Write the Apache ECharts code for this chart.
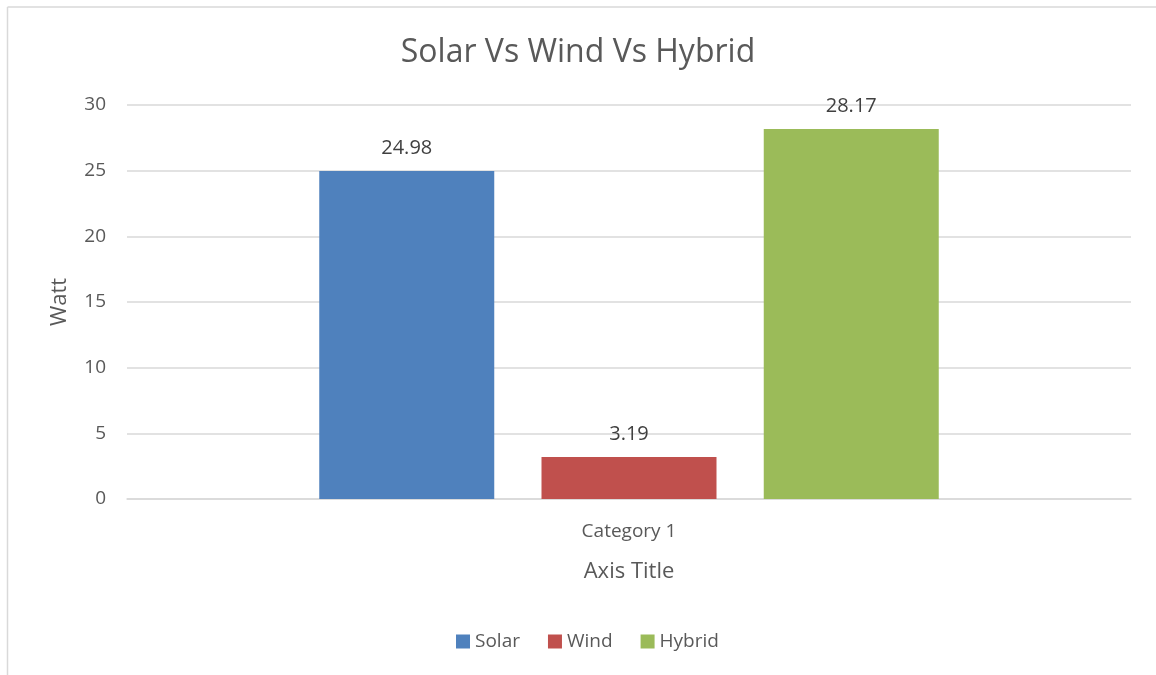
<!DOCTYPE html>
<html>
<head>
<meta charset="utf-8">
<script src="https://cdn.jsdelivr.net/npm/echarts@6/dist/echarts.min.js"></script>
<style>
  html, body { margin: 0; padding: 0; background: #fff; }
  #chart { width: 1156px; height: 675px; }
</style>
</head>
<body>
<div id="chart"></div>
<script>
// data
const categories = ['Category 1'];
const seriesNames = ['Solar', 'Wind', 'Hybrid'];
const solar = [24.98];
const wind = [3.19];
const hybrid = [28.17];
const colors = ['#4f81bd', '#c0504d', '#9bbb59'];

const font = '"Open Sans", sans-serif';
const grey = '#595959';

let chart = echarts.init(document.getElementById('chart'));

function bar(name, data, color) {
  return {
    name: name,
    type: 'bar',
    data: data,
    barWidth: 175,
    barGap: '27%',
    itemStyle: { color: color },
    label: {
      show: true,
      position: 'top',
      distance: 13,
      color: '#404040',
      fontSize: 20,
      fontFamily: font
    }
  };
}

chart.setOption({
  textStyle: { fontFamily: font },
  title: {
    text: 'Solar Vs Wind Vs Hybrid',
    left: 'center',
    top: 32,
    textStyle: { fontSize: 32, fontWeight: 'normal', color: grey, fontFamily: font }
  },
  legend: {
    bottom: 19,
    left: 451,
    itemWidth: 14,
    itemHeight: 14,
    itemGap: 28,
    icon: 'rect',
    textStyle: { fontSize: 19, color: grey, fontFamily: font },
    data: seriesNames
  },
  grid: { left: 127, right: 25, top: 105, bottom: 176, containLabel: false },
  xAxis: {
    type: 'category',
    data: categories,
    name: 'Axis Title',
    nameLocation: 'middle',
    nameGap: 62,
    nameTextStyle: { fontSize: 22, color: grey, fontFamily: font },
    axisTick: { show: false },
    axisLine: { lineStyle: { color: '#d9d9d9', width: 1.5 } },
    axisLabel: { margin: 23, fontSize: 19, color: grey, fontFamily: font }
  },
  yAxis: {
    type: 'value',
    min: 0,
    max: 30,
    interval: 5,
    name: 'Watt',
    nameLocation: 'middle',
    nameGap: 56,
    nameTextStyle: { fontSize: 22, color: grey, fontFamily: font },
    axisLine: { show: false },
    axisTick: { show: false },
    axisLabel: { margin: 21, fontSize: 19, color: grey, fontFamily: font },
    splitLine: { lineStyle: { color: '#d9d9d9', width: 1.5 } }
  },
  graphic: [
    { type: 'line', shape: { x1: 7.5, y1: 7, x2: 1156, y2: 7 }, style: { stroke: '#d9d9d9', lineWidth: 1.5 } },
    { type: 'line', shape: { x1: 7.5, y1: 7, x2: 7.5, y2: 675 }, style: { stroke: '#d9d9d9', lineWidth: 1.5 } }
  ],
  series: [
    bar(seriesNames[0], solar, colors[0]),
    bar(seriesNames[1], wind, colors[1]),
    bar(seriesNames[2], hybrid, colors[2])
  ]
});
</script>
</body>
</html>
